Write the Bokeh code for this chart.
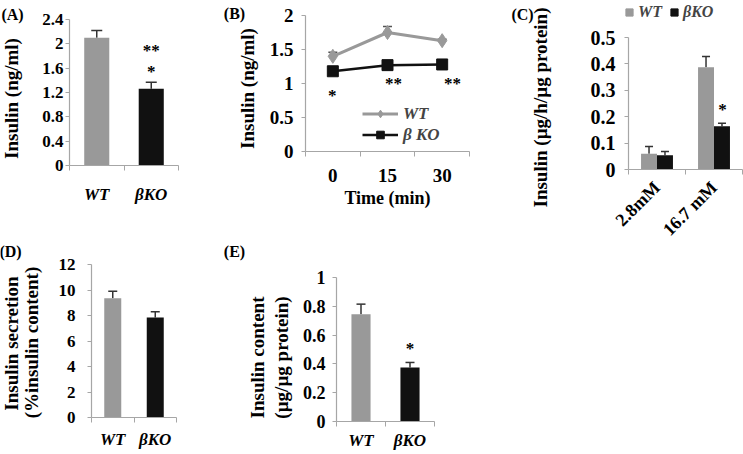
import math
from bokeh.plotting import figure
from bokeh.layouts import column, row
from bokeh.models import (Range1d, FixedTicker, Whisker, TeeHead, Label, Legend,
                          LegendItem, ColumnDataSource, NumeralTickFormatter,
                          CustomJSTickFormatter)
from bokeh.core.properties import value
from bokeh.embed import file_html
from bokeh.resources import INLINE

# ---------------- data ----------------
a_groups = ["WT", "βKO"]
a_insulin = [2.10, 1.26]
a_err = [0.12, 0.11]
a_sig_text = ["**", "*"]
a_sig_y = [1.94, 1.60]
a_yticks = [0, 0.4, 0.8, 1.2, 1.6, 2.0, 2.4]

b_times = ["0", "15", "30"]
b_wt = [1.40, 1.75, 1.63]
b_wt_err = [0.06, 0.09, 0.02]
b_ko = [1.18, 1.27, 1.28]
b_ko_err = [0.03, 0.03, 0.03]
b_sig_text = ["*", "**", "**"]
b_sig_x = [0.49, 1.61, 2.69]
b_sig_y = [0.87, 1.04, 1.04]
b_yticks = [0, 0.5, 1, 1.5, 2]

c_glucose = ["2.8mM", "16.7 mM"]
c_wt = [0.060, 0.387]
c_wt_err = [0.027, 0.041]
c_ko = [0.054, 0.164]
c_ko_err = [0.014, 0.011]
c_sig_text = ["*"]
c_sig_x = [1.65]
c_sig_y = [0.24]
c_yticks = [0, 0.1, 0.2, 0.3, 0.4, 0.5]

d_groups = ["WT", "βKO"]
d_secretion = [9.35, 7.85]
d_err = [0.55, 0.45]
d_yticks = [0, 2, 4, 6, 8, 10, 12]

e_groups = ["WT", "βKO"]
e_content = [0.745, 0.375]
e_err = [0.07, 0.035]
e_sig_text = ["*"]
e_sig_x = [1.5]
e_sig_y = [0.53]
e_yticks = [0, 0.2, 0.4, 0.6, 0.8, 1.0]

# ---------------- style / layout ----------------
GRAY = "#999999"
BLACK = "#111111"
AXIS = "#a6a6a6"
FONT = "Liberation Serif"
NAN = float("nan")


def make_panel(box, frame, x_end, y_end):
    """Figure covering `box` (page px); data area 0..x_end / 0..y_end sits in `frame`."""
    bx0, by0, bx1, by1 = box
    fx0, fy0, fx1, fy1 = frame
    W, H = bx1 - bx0, by1 - by0
    a, b = fx0 - bx0, fx1 - bx0
    t, bt = fy0 - by0, fy1 - by0
    ux = (b - a) / x_end
    uy = (bt - t) / y_end
    p = figure(width=W, height=H,
               x_range=Range1d(-a / ux, (W - a) / ux),
               y_range=Range1d(-(H - bt) / uy, y_end + t / uy),
               output_backend="svg", toolbar_location=None, min_border=0,
               background_fill_color="white", border_fill_color="white")
    p.outline_line_color = None
    p.xgrid.visible = False
    p.ygrid.visible = False
    return p


def style_axes(p, yticks, cats, y_standoff, x_standoff, x_style="bold italic",
               x_size="17px", y_size="17px"):
    n = len(cats)
    ya = p.yaxis[0]
    ya.fixed_location = 0
    ya.bounds = (0, yticks[-1])
    ya.ticker = FixedTicker(ticks=yticks, minor_ticks=[])
    ya.formatter = NumeralTickFormatter(format="0.[0]")
    ya.major_tick_out = 4
    ya.major_tick_in = 0
    ya.major_label_standoff = y_standoff
    ya.major_label_text_font_style = "bold"
    ya.major_label_text_font_size = y_size
    xa = p.xaxis[0]
    xa.fixed_location = 0
    xa.bounds = (0, n)
    xa.ticker = FixedTicker(ticks=[i + 0.5 for i in range(n)], minor_ticks=list(range(n + 1)))
    xa.formatter = CustomJSTickFormatter(args=dict(labels=cats),
                                         code="return labels[Math.floor(tick)] || '';")
    xa.major_tick_out = 0
    xa.major_tick_in = 0
    xa.minor_tick_out = 5
    xa.minor_tick_in = 0
    xa.major_label_standoff = x_standoff
    xa.major_label_text_font_style = x_style
    xa.major_label_text_font_size = x_size
    for ax in (xa, ya):
        ax.axis_line_color = AXIS
        ax.axis_line_width = 1.2
        ax.major_tick_line_color = AXIS
        ax.minor_tick_line_color = AXIS
        ax.major_label_text_font = FONT
        ax.major_label_text_color = "black"
    ya.minor_tick_line_color = None


def put(p, box, rx, ry, text, size="19px", style="bold", angle=0.0):
    bx0, by0, bx1, by1 = box
    p.add_layout(Label(x=rx - bx0, y=by1 - ry, x_units="screen", y_units="screen",
                       text=text, angle=angle, text_font=FONT, text_font_size=size,
                       text_font_style=style, text_color="black",
                       text_align="center", text_baseline="middle"))


def errorbars(p, xs, tops, errs, color, head=10):
    src = ColumnDataSource(dict(x=xs, top=tops, upper=[t + e for t, e in zip(tops, errs)]))
    p.add_layout(Whisker(source=src, base="x", lower="top", upper="upper",
                         dimension="height", line_color=color, line_width=1.5,
                         upper_head=TeeHead(size=head, line_color=color, line_width=1.5),
                         lower_head=None))


def stars(p, xs, ys, texts):
    p.text(x=xs, y=ys, text=texts, text_font=value(FONT), text_font_size="17px",
           text_font_style="bold", text_color="black", text_align="center",
           text_baseline="middle", y_offset=3)


VERT = math.pi / 2

# ---------------- panel A ----------------
bA, fA = (0, 0, 180, 215), (69, 19, 178, 165)
pA = make_panel(bA, fA, len(a_groups), a_yticks[-1])
xa_pos = [i + 0.5 for i in range(len(a_groups))]
pA.vbar(x=xa_pos, top=a_insulin, width=0.46, fill_color=[GRAY, BLACK], line_color=None)
errorbars(pA, xa_pos, a_insulin, a_err, "#333333", 11)
stars(pA, [xa_pos[1]] * len(a_sig_text), a_sig_y, a_sig_text)
style_axes(pA, a_yticks, a_groups, 2, 14)
put(pA, bA, 12, 14, "(A)", "16px")
put(pA, bA, 11, 98, "Insulin (ng/ml)", "19px", angle=VERT)

# ---------------- panel B ----------------
bB, fB = (180, 0, 490, 215), (305, 15, 469, 151)
pB = make_panel(bB, fB, len(b_times), b_yticks[-1])
xb = [i + 0.5 for i in range(len(b_times))]
errorbars(pB, xb, b_wt, b_wt_err, "#555555", 9)
errorbars(pB, xb, b_ko, b_ko_err, BLACK, 9)
r1 = pB.line(xb, b_wt, line_color=GRAY, line_width=3)
r2 = pB.scatter(xb, b_wt, marker="diamond", size=14, fill_color=GRAY, line_color=GRAY)
r3 = pB.line(xb, b_ko, line_color=BLACK, line_width=2.5)
r4 = pB.scatter(xb, b_ko, marker="square", size=11, fill_color=BLACK, line_color=BLACK)
stars(pB, b_sig_x, b_sig_y, b_sig_text)
style_axes(pB, b_yticks, b_times, 8, 12, x_style="bold", x_size="19px", y_size="19px")
legB = Legend(items=[LegendItem(label="WT", renderers=[r1, r2]),
                     LegendItem(label="β KO", renderers=[r3, r4])],
              location=(362 - 180, 215 - 135 - 9.5),
              glyph_width=36, glyph_height=19, label_height=19, label_standoff=5,
              spacing=1, padding=0, margin=0, border_line_color=None,
              background_fill_alpha=0, label_text_font=FONT,
              label_text_font_size="17px", label_text_font_style="bold italic")
pB.add_layout(legB)
put(pB, bB, 234, 13, "(B)", "16px")
put(pB, bB, 247, 88, "Insulin (ng/ml)", "19px", angle=VERT)
put(pB, bB, 387, 197, "Time (min)", "18px")

# ---------------- panel C ----------------
bC, fC = (490, 0, 743, 454), (628, 37, 742, 169)
pC = make_panel(bC, fC, len(c_glucose), c_yticks[-1])
xc = [i + 0.5 for i in range(len(c_glucose))]
xc_wt = [x - 0.14 for x in xc]
xc_ko = [x + 0.14 for x in xc]
pC.vbar(x=xc_wt, top=c_wt, width=0.28, fill_color=GRAY, line_color=None)
pC.vbar(x=xc_ko, top=c_ko, width=0.28, fill_color=BLACK, line_color=None)
errorbars(pC, xc_wt, c_wt, c_wt_err, "#333333", 8)
errorbars(pC, xc_ko, c_ko, c_ko_err, "#333333", 8)
stars(pC, c_sig_x, c_sig_y, c_sig_text)
style_axes(pC, c_yticks, c_glucose, 9, 10, x_style="bold", x_size="18px", y_size="20px")
pC.xaxis[0].major_label_orientation = math.pi / 4
# legend keys (no visible data points)
kc1 = pC.scatter(x=[NAN], y=[NAN], marker="square", fill_color=GRAY, line_color=GRAY)
kc2 = pC.scatter(x=[NAN], y=[NAN], marker="square", fill_color=BLACK, line_color=BLACK)
legC = Legend(items=[LegendItem(label="WT", renderers=[kc1]),
                     LegendItem(label="βKO", renderers=[kc2])],
              orientation="horizontal",
              location=(620 - 490, 454 - 11 - 9.5),
              glyph_width=18, glyph_height=18, label_height=18, label_standoff=0,
              spacing=3, padding=0, margin=0, border_line_color=None,
              background_fill_alpha=0, label_text_font=FONT,
              label_text_font_size="16px", label_text_font_style="bold italic")
pC.add_layout(legC)
put(pC, bC, 522, 14, "(C)", "16px")
put(pC, bC, 540, 107, "Insulin (µg/h/µg protein)", "19px", angle=VERT)

# ---------------- panel D ----------------
bD, fD = (0, 215, 195, 454), (91, 264, 176, 417)
pD = make_panel(bD, fD, len(d_groups), d_yticks[-1])
xd = [i + 0.5 for i in range(len(d_groups))]
pD.vbar(x=xd, top=d_secretion, width=0.40, fill_color=[GRAY, BLACK], line_color=None)
errorbars(pD, xd, d_secretion, d_err, "#333333", 9)
style_axes(pD, d_yticks, d_groups, 12, 7)
put(pD, bD, 10, 251, "(D)", "16px")
put(pD, bD, 11, 343, "Insulin secretion", "19px", angle=VERT)
put(pD, bD, 31, 342, "(%insulin content)", "19px", angle=VERT)

# ---------------- panel E ----------------
bE, fE = (195, 215, 450, 454), (336, 277, 434, 421)
pE = make_panel(bE, fE, len(e_groups), e_yticks[-1])
xe = [i + 0.5 for i in range(len(e_groups))]
pE.vbar(x=xe, top=e_content, width=0.39, fill_color=[GRAY, BLACK], line_color=None)
errorbars(pE, xe, e_content, e_err, "#333333", 9)
stars(pE, e_sig_x, e_sig_y, e_sig_text)
style_axes(pE, e_yticks, e_groups, 7, 4, y_size="18px")
put(pE, bE, 234, 251, "(E)", "16px")
put(pE, bE, 257, 357, "Insulin content", "19px", angle=VERT)
put(pE, bE, 281, 357, "(µg/µg protein)", "19px", angle=VERT)

layout = row(column(row(pA, pB), row(pD, pE)), pC)
open("out.html", "w").write(file_html(layout, INLINE))
